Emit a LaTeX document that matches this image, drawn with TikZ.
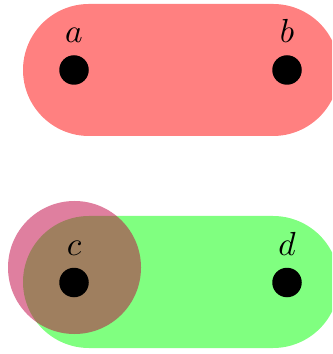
\documentclass[tikz,border=0pt]{standalone}
\begin{document}
\begin{tikzpicture}[x=0.3pt,y=-0.3pt,
  dot/.style={circle,fill=black,inner sep=0pt,minimum size=8.85pt},
  hullred/.style={fill=red!50,rounded corners=19.8pt},
  hullgreen/.style={fill=green!50,rounded corners=19.8pt},
  blob/.style={fill=purple,opacity=0.5}]
\clip (0,0) rectangle (332,354);
\fill[hullred] (23,4) rectangle (339,136);
\fill[hullgreen] (23,216) rectangle (339,348);
\fill[blob] (74.5,267.5) circle[radius=66.5];
\node[dot,label=above:$a$] (a) at (74,70) {};
\node[dot,label=above:$b$] (b) at (287,70) {};
\node[dot,label=above:$c$] (c) at (74,282.5) {};
\node[dot,label=above:$d$] (d) at (287,282.5) {};
\end{tikzpicture}
\end{document}
